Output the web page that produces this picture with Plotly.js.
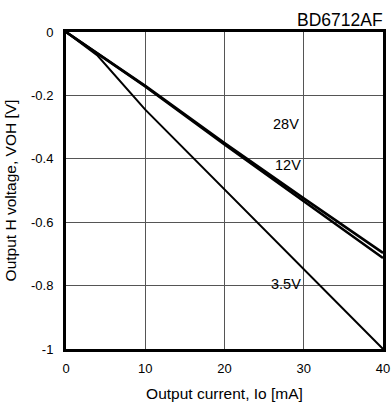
<!DOCTYPE html>
<html>
<head>
<meta charset="utf-8">
<script src="https://cdn.plot.ly/plotly-3.0.1.min.js"></script>
<style>html,body{margin:0;padding:0;background:#fff;}#chart{width:392px;height:406px;}</style>
</head>
<body>
<div id="chart"></div>
<script>
// Output current Io [mA]
const current = [0, 10, 20, 30, 40];
const current35 = [0, 4, 10, 20, 30, 40];
// Output H voltage VOH [V]
const voh28 = [0, -0.170, -0.350, -0.525, -0.697];
const voh12 = [0, -0.172, -0.355, -0.533, -0.713];
const voh35 = [0, -0.075, -0.245, -0.497, -0.750, -1.0];
const xTicks = [0, 10, 20, 30, 40];
const xTickText = ['0', '10', '20', '30', '40'];
const yTicks = [0, -0.2, -0.4, -0.6, -0.8, -1];
const yTickText = ['0', '-0.2', '-0.4', '-0.6', '-0.8', '-1'];
const seriesLabels = ['28V', '12V', '3.5V'];
const labelPos = [[27.8, -0.29], [28.0, -0.42], [27.8, -0.795]];

const font = 'Liberation Sans, Arial, sans-serif';
const traces = [
  {x: current, y: voh28, mode: 'lines', line: {color: '#000', width: 2.6}, name: '28V'},
  {x: current, y: voh12, mode: 'lines', line: {color: '#000', width: 2.6}, name: '12V'},
  {x: current35, y: voh35, mode: 'lines', line: {color: '#000', width: 2}, name: '3.5V'}
];
const annotations = seriesLabels.map((t, i) => ({
  x: labelPos[i][0], y: labelPos[i][1], xref: 'x', yref: 'y', text: t,
  showarrow: false, font: {family: font, size: 14.5, color: '#000'}
}));
annotations.push({
  x: 1, y: 1, xref: 'paper', yref: 'paper', xanchor: 'right', yanchor: 'bottom',
  text: 'BD6712AF', showarrow: false, yshift: 0, xshift: 2,
  font: {family: font, size: 17.5, color: '#000'}
});
const layout = {
  width: 392, height: 406,
  margin: {l: 66, r: 9, t: 32, b: 57},
  paper_bgcolor: '#fff', plot_bgcolor: '#fff',
  showlegend: false,
  font: {family: font, size: 13, color: '#000'},
  xaxis: {
    range: [0, 40], tickvals: xTicks, ticktext: xTickText,
    showgrid: true, gridcolor: '#555', gridwidth: 1,
    zeroline: false, showline: true, mirror: true, linecolor: '#000', linewidth: 3,
    ticks: '', ticklabelstandoff: 5,
    tickfont: {family: font, size: 13},
    title: {text: 'Output current, Io [mA]', font: {family: font, size: 15.5}, standoff: 14}
  },
  yaxis: {
    range: [-1, 0], tickvals: yTicks, ticktext: yTickText,
    showgrid: true, gridcolor: '#555', gridwidth: 1,
    zeroline: false, showline: true, mirror: true, linecolor: '#000', linewidth: 3,
    ticks: '', ticklabelstandoff: 7,
    tickfont: {family: font, size: 13},
    title: {text: 'Output H voltage, VOH [V]', font: {family: font, size: 15.5}, standoff: 11}
  },
  annotations: annotations
};
Plotly.newPlot('chart', traces, layout, {displayModeBar: false, staticPlot: true});
</script>
</body>
</html>
